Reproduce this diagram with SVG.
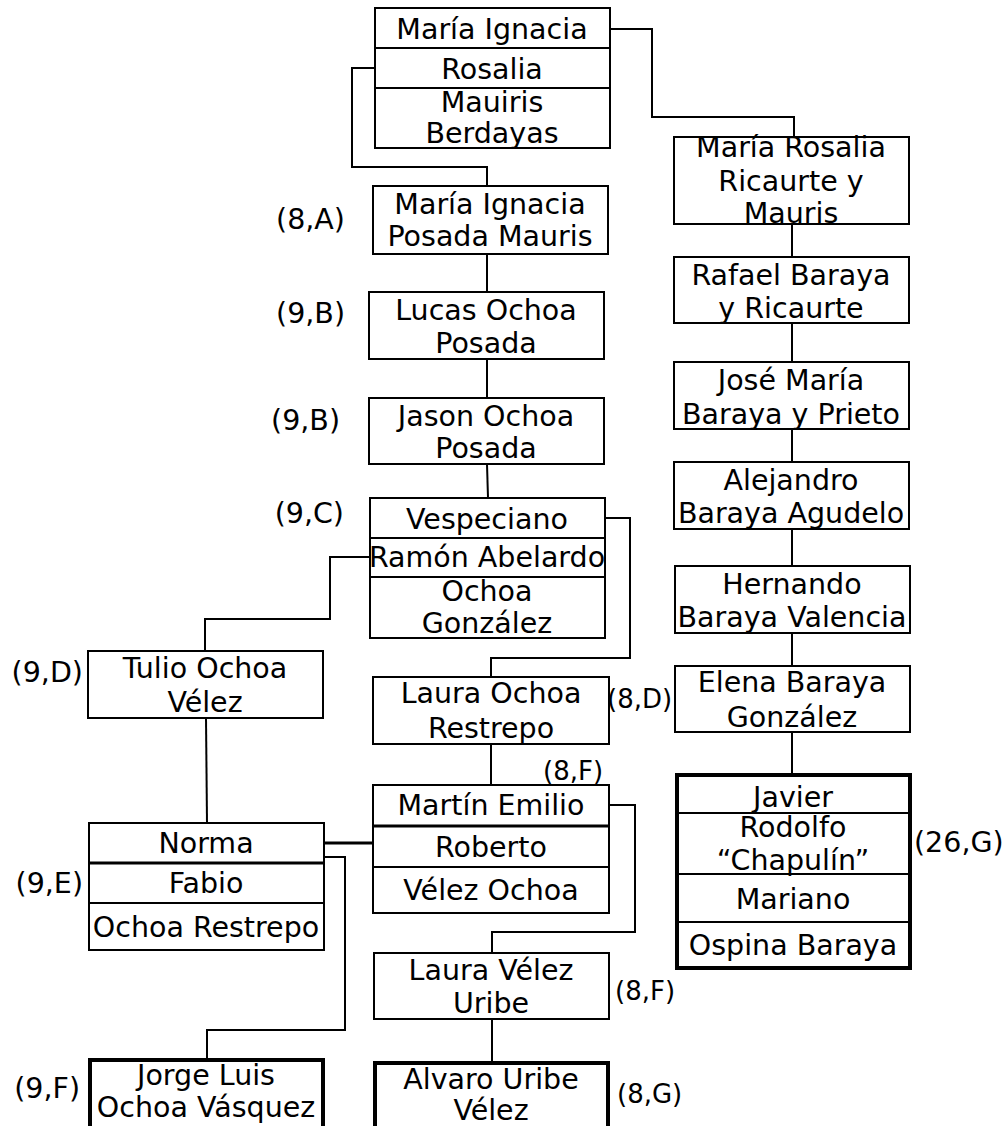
<svg xmlns="http://www.w3.org/2000/svg" width="1008" height="1126" viewBox="0 0 1008 1126">
<style>
.b{fill:#fff;stroke:#000;stroke-width:2}
.k{fill:#fff;stroke:#000;stroke-width:4}
.d{stroke:#000;stroke-width:2;fill:none}
.dt{stroke:#000;stroke-width:3;fill:none}
.c{stroke:#000;stroke-width:2;fill:none}
text{font-family:"DejaVu Sans",Verdana,sans-serif;font-size:28.5px;fill:#000}
.t{text-anchor:middle}
.l{text-anchor:end}
.s{font-size:26px}
</style>
<rect width="1008" height="1126" fill="#fff"/>
<g id="connectors">
<polyline class="c" points="610,29 652,29 652,117 794,117 794,137"/>
<polyline class="c" points="375,68 352,68 352,167 487,167 487,186"/>
<line class="c" x1="487" y1="254" x2="487" y2="292"/>
<line class="c" x1="487" y1="359" x2="487" y2="398"/>
<line class="c" x1="487" y1="464" x2="488" y2="498"/>
<polyline class="c" points="605,518 630,518 630,658 491,658 491,677"/>
<polyline class="c" points="370,557 330,557 330,619 205,619 205,651"/>
<line class="c" x1="206" y1="718" x2="207" y2="823"/>
<line class="dt" x1="324" y1="843" x2="373" y2="843"/>
<line class="c" x1="491" y1="744" x2="491" y2="785"/>
<polyline class="c" points="609,805 635,805 635,932 492,932 492,953"/>
<line class="c" x1="492" y1="1019" x2="492" y2="1062"/>
<polyline class="c" points="324,857 345,857 345,1030 207,1030 207,1059"/>
<line class="c" x1="792" y1="224" x2="792" y2="257"/>
<line class="c" x1="792" y1="323" x2="792" y2="362"/>
<line class="c" x1="792" y1="429" x2="792" y2="462"/>
<line class="c" x1="792" y1="529" x2="792" y2="566"/>
<line class="c" x1="792" y1="633" x2="792" y2="666"/>
<line class="c" x1="792" y1="732" x2="792" y2="774"/>
</g>
<g id="n-maria-ignacia-top">
<rect class="b" x="375" y="8" width="235" height="140"/>
<line class="d" x1="375" y1="48" x2="610" y2="48"/>
<line class="d" x1="375" y1="88" x2="610" y2="88"/>
<text class="t" x="492" y="39">María Ignacia</text>
<text class="t" x="492" y="79">Rosalia</text>
<text class="t" x="492" y="112">Mauiris</text>
<text class="t" x="492" y="143">Berdayas</text>
</g>
<g id="n-maria-ignacia-posada">
<rect class="b" x="373" y="186" width="235" height="68"/>
<text class="t" x="490" y="214">María Ignacia</text>
<text class="t" x="490" y="246">Posada Mauris</text>
<text class="l" x="345" y="229">(8,A)</text>
</g>
<g id="n-lucas">
<rect class="b" x="369" y="292" width="235" height="67"/>
<text class="t" x="486" y="320">Lucas Ochoa</text>
<text class="t" x="486" y="353">Posada</text>
<text class="l" x="345" y="323">(9,B)</text>
</g>
<g id="n-jason">
<rect class="b" x="369" y="398" width="235" height="66"/>
<text class="t" x="486" y="426">Jason Ochoa</text>
<text class="t" x="486" y="458">Posada</text>
<text class="l" x="340" y="430">(9,B)</text>
</g>
<g id="n-vespeciano">
<rect class="b" x="370" y="498" width="235" height="140"/>
<line class="d" x1="370" y1="538" x2="605" y2="538"/>
<line class="d" x1="370" y1="577" x2="605" y2="577"/>
<text class="t" x="487" y="529">Vespeciano</text>
<text class="t" x="487" y="567">Ramón Abelardo</text>
<text class="t" x="487" y="601">Ochoa</text>
<text class="t" x="487" y="633">González</text>
<text class="l" x="344" y="523">(9,C)</text>
</g>
<g id="n-tulio">
<rect class="b" x="88" y="651" width="235" height="67"/>
<text class="t" x="205" y="678">Tulio Ochoa</text>
<text class="t" x="205" y="712">Vélez</text>
<text class="l" x="83" y="682">(9,D)</text>
</g>
<g id="n-laura-ochoa">
<rect class="b" x="373" y="677" width="236" height="67"/>
<text class="t" x="491" y="703">Laura Ochoa</text>
<text class="t" x="491" y="738">Restrepo</text>
<text class="s" x="607" y="708">(8,D)</text>
</g>
<g id="n-norma">
<rect class="b" x="89" y="823" width="235" height="127"/>
<line class="dt" x1="89" y1="863" x2="324" y2="863"/>
<line class="d" x1="89" y1="903" x2="324" y2="903"/>
<text class="t" x="206" y="853">Norma</text>
<text class="t" x="206" y="893">Fabio</text>
<text class="t" x="206" y="937">Ochoa Restrepo</text>
<text class="l" x="83" y="893">(9,E)</text>
</g>
<g id="n-martin">
<rect class="b" x="373" y="785" width="236" height="128"/>
<line class="dt" x1="373" y1="826" x2="609" y2="826"/>
<line class="d" x1="373" y1="867" x2="609" y2="867"/>
<text class="t" x="491" y="815">Martín Emilio</text>
<text class="t" x="491" y="857">Roberto</text>
<text class="t" x="491" y="900">Vélez Ochoa</text>
<text class="s" x="543" y="780">(8,F)</text>
</g>
<g id="n-laura-velez">
<rect class="b" x="374" y="953" width="235" height="66"/>
<text class="t" x="491" y="980">Laura Vélez</text>
<text class="t" x="491" y="1013">Uribe</text>
<text class="s" x="615" y="1000">(8,F)</text>
</g>
<g id="n-alvaro">
<rect class="k" x="375" y="1063" width="233" height="80"/>
<text class="t" x="491" y="1089">Alvaro Uribe</text>
<text class="t" x="491" y="1120">Vélez</text>
<text class="s" x="617" y="1103">(8,G)</text>
</g>
<g id="n-jorge">
<rect class="k" x="90" y="1060" width="233" height="80"/>
<text class="t" x="206" y="1085">Jorge Luis</text>
<text class="t" x="206" y="1117">Ochoa Vásquez</text>
<text class="l" x="80" y="1098">(9,F)</text>
</g>
<g id="n-maria-rosalia">
<rect class="b" x="674" y="137" width="235" height="87"/>
<text class="t" x="791" y="157">María Rosalia</text>
<text class="t" x="791" y="191">Ricaurte y</text>
<text class="t" x="791" y="223">Mauris</text>
</g>
<g id="n-rafael">
<rect class="b" x="674" y="257" width="235" height="66"/>
<text class="t" x="791" y="285">Rafael Baraya</text>
<text class="t" x="791" y="318">y Ricaurte</text>
</g>
<g id="n-jose-maria">
<rect class="b" x="674" y="362" width="235" height="67"/>
<text class="t" x="791" y="390">José María</text>
<text class="t" x="791" y="424">Baraya y Prieto</text>
</g>
<g id="n-alejandro">
<rect class="b" x="674" y="462" width="235" height="67"/>
<text class="t" x="791" y="490">Alejandro</text>
<text class="t" x="791" y="523">Baraya Agudelo</text>
</g>
<g id="n-hernando">
<rect class="b" x="675" y="566" width="235" height="67"/>
<text class="t" x="792" y="594">Hernando</text>
<text class="t" x="792" y="627">Baraya Valencia</text>
</g>
<g id="n-elena">
<rect class="b" x="675" y="666" width="235" height="66"/>
<text class="t" x="792" y="692">Elena Baraya</text>
<text class="t" x="792" y="727">González</text>
</g>
<g id="n-javier">
<rect class="k" x="677" y="775" width="233" height="193"/>
<line class="d" x1="677" y1="813" x2="910" y2="813"/>
<line class="d" x1="677" y1="874" x2="910" y2="874"/>
<line class="d" x1="677" y1="922" x2="910" y2="922"/>
<text class="t" x="793" y="807">Javier</text>
<text class="t" x="793" y="837">Rodolfo</text>
<text class="t" x="793" y="870">“Chapulín”</text>
<text class="t" x="793" y="909">Mariano</text>
<text class="t" x="793" y="955">Ospina Baraya</text>
<text x="914" y="852">(26,G)</text>
</g>
</svg>
